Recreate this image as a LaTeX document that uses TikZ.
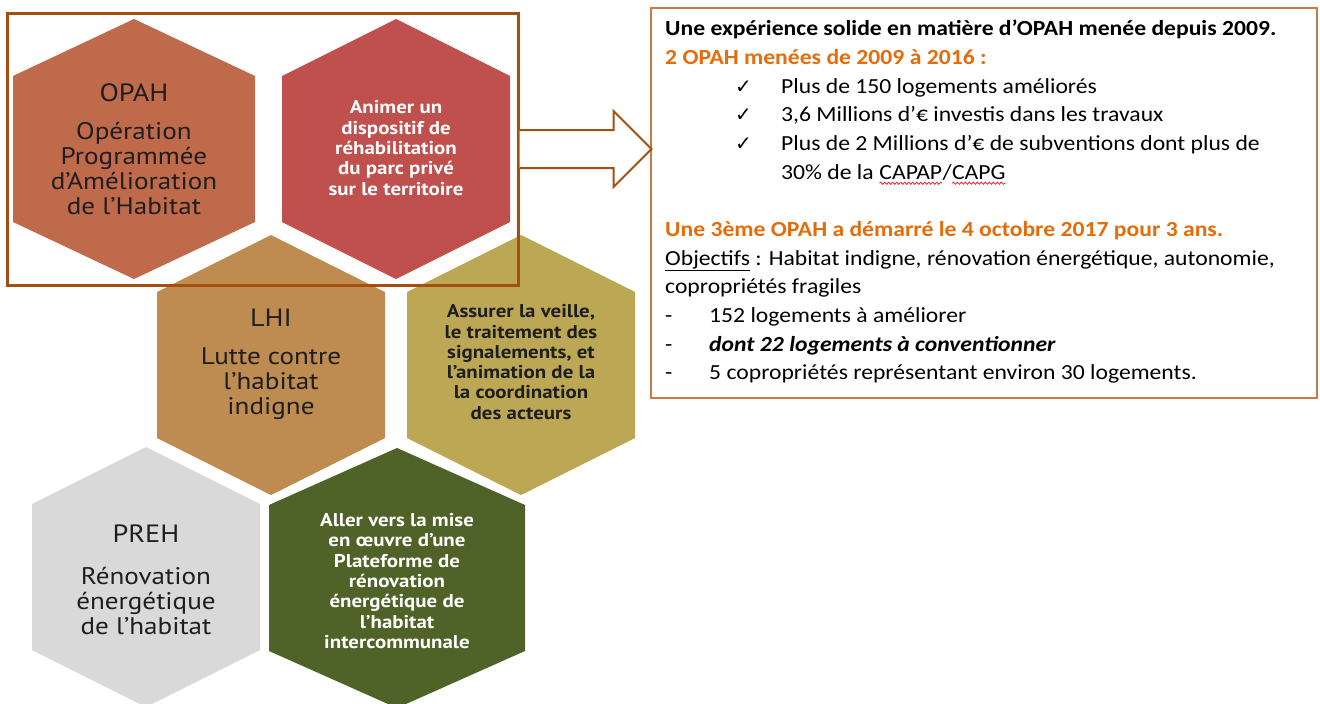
\documentclass[tikz,border=0pt]{standalone}
\usepackage{fontspec}
\setmainfont{Carlito}[FakeStretch=1.1]
\newfontfamily\hexfont{PT Sans}[FakeStretch=1.13]
\newfontfamily\symfont{DejaVu Sans}
\usetikzlibrary{positioning,decorations.pathmorphing}
\definecolor{opahbrown}{RGB}{192,106,76}
\definecolor{animred}{RGB}{192,80,77}
\definecolor{lhiochre}{RGB}{190,139,80}
\definecolor{veilleolive}{RGB}{188,168,84}
\definecolor{prehgrey}{RGB}{217,217,217}
\definecolor{platgreen}{RGB}{79,98,40}
\definecolor{framebrown}{RGB}{166,78,18}
\definecolor{boxbrown}{RGB}{194,125,75}
\definecolor{titleorange}{RGB}{228,108,10}
\definecolor{hexink}{RGB}{30,30,30}
\definecolor{spellred}{RGB}{230,40,40}

% red wavy underline (spell checker mark)
\newcommand\spellwave[1]{\tikz[baseline=(sw.base)]{\node[inner sep=0pt,outer sep=0pt,anchor=base] (sw) {#1};
  \draw[spellred,line width=0.8pt,decorate,decoration={snake,amplitude=1.1pt,segment length=4pt}]
    ([yshift=-4pt]sw.base west) -- ([yshift=-4pt]sw.base east);}}

% pointy-top hexagon: centre x, centre y, half width, fill
\newcommand\hexcell[4]{%
  \fill[#4] (#1,#2) ++(0,-130) -- ++(#3,57) -- ++(0,146) -- ++(-#3,57) -- ++(-#3,-57) -- ++(0,-146) -- cycle;}
\newcommand\checkitem[1]{\hspace*{70pt}\makebox[46pt][l]{\symfont\fontsize{20}{20}\selectfont ✓}#1}
\newcommand\dashitem[1]{\makebox[44pt][l]{-}#1}

\begin{document}
\begin{tikzpicture}[
  x=1pt,y=-1pt,
  hexdark/.style={align=center,inner sep=0pt,text=hexink,font=\hexfont\fontsize{24}{25}\selectfont},
  hexbold/.style={align=center,inner sep=0pt,text=hexink,font=\hexfont\bfseries\fontsize{18.5}{20.3}\selectfont},
  hexwhite/.style={hexbold,text=white},
  opahframe/.style={draw=framebrown,line width=3pt,minimum width=511pt,minimum height=272pt,inner sep=0pt},
  bilanbox/.style={draw=boxbrown,line width=2pt,minimum width=666pt,minimum height=390pt,inner sep=0pt},
  bilantext/.style={align=left,inner sep=0pt,font=\fontsize{21.5}{28.67}\selectfont},
  blockarrow/.style={draw=framebrown,line width=2pt,line join=miter,fill=white},
]
  \fill[white] (0,0) rectangle (1320,704);
  \useasboundingbox (0,0) rectangle (1320,704);

  % honeycomb
  \hexcell{134}{149}{121}{opahbrown}
  \hexcell{396}{149}{114}{animred}
  \hexcell{271}{365}{114}{lhiochre}
  \hexcell{521}{365}{114}{veilleolive}
  \hexcell{146}{577}{114}{prehgrey}
  \hexcell{397}{578}{128}{platgreen}

  \node[hexdark] (opahtxt) at (134,149) {{\fontsize{25}{25}\selectfont OPAH}\\[13pt]Opération\\Programmée\\d’Amélioration\\de l’Habitat};
  \node[hexwhite] (animtxt) at (396,148) {Animer un\\dispositif de\\réhabilitation\\du parc privé\\sur le territoire};
  \node[hexdark] (lhitxt) at (271,364) {{\fontsize{25}{25}\selectfont LHI}\\[13pt]Lutte contre\\l’habitat\\indigne};
  \node[hexbold] (veilletxt) at (521,362) {Assurer la veille,\\le traitement des\\signalements, et\\l’animation de la\\la coordination\\des acteurs};
  \node[hexdark] (prehtxt) at (146,580) {{\fontsize{25}{25}\selectfont PREH}\\[17pt]Rénovation\\énergétique\\de l’habitat};
  \node[hexwhite] (plattxt) at (397,581) {Aller vers la mise\\en œuvre d’une\\Plateforme de\\rénovation\\énergétique de\\l’habitat\\intercommunale};

  \node[opahframe] (opahbox) at (262.5,149) {};

  % summary of the programme
  \node[bilanbox,anchor=north west] (bilan) at (650,7) {};
  \node[bilantext,anchor=north west] (bilantxt) at (665,20) {%
    \textbf{Une expérience solide en matière d’OPAH menée depuis 2009.}\\
    {\color{titleorange}\textbf{2 OPAH menées de 2009 à 2016 :}}\\
    \checkitem{Plus de 150 logements améliorés}\\
    \checkitem{3,6 Millions d’€ investis dans les travaux}\\
    \checkitem{Plus de 2 Millions d’€ de subventions dont plus de}\\
    \hspace*{116pt}30\% de la \spellwave{CAPAP}/\spellwave{CAPG}\\[28.67pt]
    {\color{titleorange}\textbf{Une 3ème OPAH a démarré le 4 octobre 2017 pour 3 ans.}}\\
    \underline{Objectifs} : Habitat indigne, rénovation énergétique, autonomie,\\
    copropriétés fragiles\\
    \dashitem{152 logements à améliorer}\\
    \dashitem{\textbf{\textit{dont 22 logements à conventionner}}}\\
    \dashitem{5 copropriétés représentant environ 30 logements.}};

  \draw[blockarrow] (opahbox.east) ++(0,-19) -- ++(94,0) -- ++(0,-19) -- ++(38,38)
    -- ++(-38,38) -- ++(0,-19) -- ++(-94,0);
\end{tikzpicture}
\end{document}
